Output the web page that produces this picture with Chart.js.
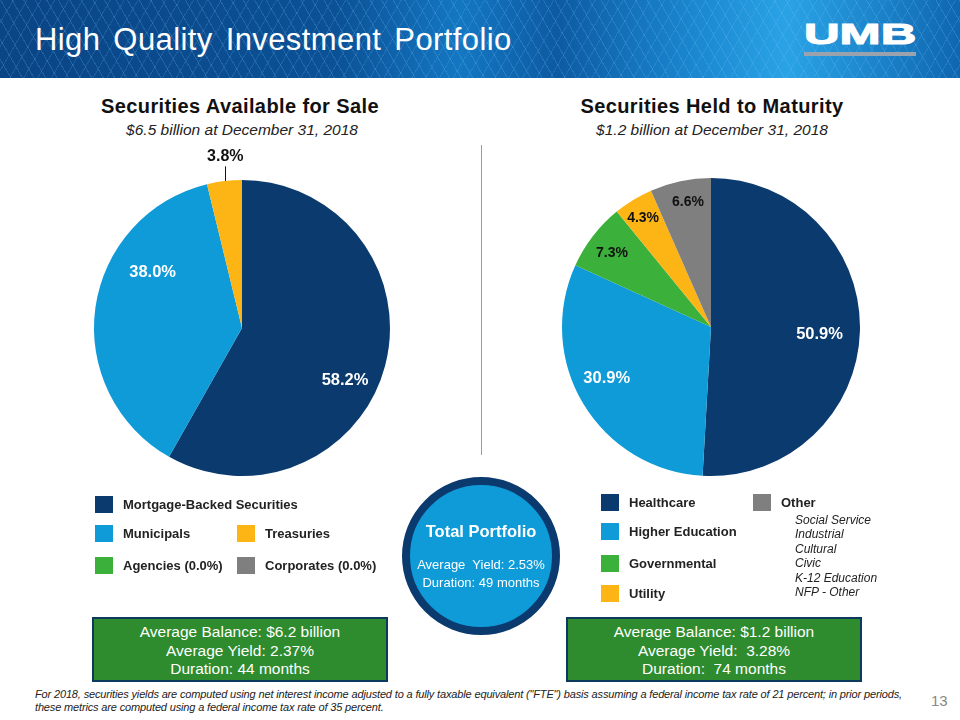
<!DOCTYPE html>
<html><head><meta charset="utf-8">
<script src="https://cdn.jsdelivr.net/npm/chart.js@4/dist/chart.umd.min.js"></script>
<style>
html,body{margin:0;padding:0;background:#fff;}
body{width:960px;height:720px;position:relative;overflow:hidden;font-family:"Liberation Sans",Arial,sans-serif;}
#hdr{position:absolute;left:0;top:0;width:960px;height:78px;
 background:
  repeating-linear-gradient(60deg, rgba(255,255,255,0) 0 9px, rgba(120,200,250,0.20) 9px 10px),
  repeating-linear-gradient(120deg, rgba(255,255,255,0) 0 11px, rgba(120,200,250,0.16) 11px 12px),
  linear-gradient(90deg,#0a4585 0%,#0b5196 35%,#1477c2 48%,#0d5aa2 58%,#1a86cf 72%,#2aa3e6 82%,#0f66b0 100%);}
#title{position:absolute;left:35px;top:24px;color:#fff;font-size:31px;line-height:31px;letter-spacing:0.4px;word-spacing:4px;white-space:nowrap;}
#logo{position:absolute;left:804px;top:20px;color:#fff;font-weight:bold;font-size:29px;line-height:29px;transform:scaleX(1.7);transform-origin:left top;white-space:nowrap;-webkit-text-stroke:1px #fff;}
#logobar{position:absolute;left:804px;top:52px;width:112px;height:4px;background:#9aa3ad;}
.ct{position:absolute;font-weight:bold;font-size:20px;line-height:20px;letter-spacing:0.4px;color:#111;text-align:center;width:400px;white-space:nowrap;}
.cs{position:absolute;font-style:italic;font-size:15.5px;line-height:16px;color:#222;text-align:center;width:400px;white-space:nowrap;}
canvas{position:absolute;}
#div{position:absolute;left:481px;top:145px;width:1px;height:310px;background:#9a9a9a;}
.lg{position:absolute;font-weight:bold;font-size:13px;color:#222;display:flex;align-items:center;white-space:nowrap;}
.lg span.sw{display:inline-block;width:18px;height:17px;margin-right:10px;}
.sub{position:absolute;font-style:italic;font-size:12px;color:#222;line-height:14.4px;}
#circ{position:absolute;left:402px;top:477px;width:142px;height:142px;border-radius:50%;border:8px solid #0b3a6e;background:#0f9ad8;color:#fff;text-align:center;}
.box{position:absolute;width:296px;height:65px;background:#2e8b2e;border:2px solid #0b3a5e;color:#fff;text-align:center;font-size:15.5px;line-height:18.5px;padding-top:4px;box-sizing:border-box;}
#foot{position:absolute;left:35px;top:688px;font-style:italic;font-size:11px;color:#222;line-height:13px;letter-spacing:-0.15px;white-space:nowrap;}
#pg{position:absolute;left:931px;top:692px;font-size:15px;color:#888;}
</style></head>
<body>
<div id="hdr"></div>
<div id="title">High Quality Investment Portfolio</div>
<div id="logo">UMB</div>
<div id="logobar"></div>

<div class="ct" style="left:40px;top:96px;">Securities Available for Sale</div>
<div class="cs" style="left:42px;top:122px;">$6.5 billion at December 31, 2018</div>
<div class="ct" style="left:512px;top:96px;">Securities Held to Maturity</div>
<div class="cs" style="left:512px;top:122px;">$1.2 billion at December 31, 2018</div>
<div id="div"></div>

<canvas id="c1" width="400" height="400" style="left:42px;top:128px;width:400px;height:400px;"></canvas>
<canvas id="c2" width="400" height="400" style="left:511px;top:127px;width:400px;height:400px;"></canvas>

<div id="leg"></div>

<div id="circ">
 <div style="font-weight:bold;font-size:16.5px;line-height:19px;margin-top:37px;">Total Portfolio</div>
 <div style="font-size:13px;margin-top:15px;line-height:18px;">Average&nbsp; Yield: 2.53%<br>Duration: 49 months</div>
</div>

<div class="box" style="left:92px;top:617px;">Average Balance: $6.2 billion<br>Average Yield: 2.37%<br>Duration: 44 months</div>
<div class="box" style="left:566px;top:617px;">Average Balance: $1.2 billion<br>Average Yield:&nbsp; 3.28%<br>Duration:&nbsp; 74 months</div>

<div id="foot">For 2018, securities yields are computed using net interest income adjusted to a fully taxable equivalent ("FTE") basis assuming a federal income tax rate of 21 percent; in prior periods,<br>these metrics are computed using a federal income tax rate of 35 percent.</div>
<div id="pg">13</div>

<script>
// ---- data ----
const afsCategories = ["Mortgage-Backed Securities","Municipals","Treasuries","Agencies (0.0%)","Corporates (0.0%)"];
const afsValues = [58.2, 38.0, 3.8, 0.0, 0.0];
const htmCategories = ["Healthcare","Higher Education","Governmental","Utility","Other"];
const htmValues = [50.9, 30.9, 7.3, 4.3, 6.6];
const otherSubcategories = ["Social Service","Industrial","Cultural","Civic","K-12 Education","NFP - Other"];

// ---- styles ----
const NAVY="#0b3a6e", LBLUE="#0f9ad8", YEL="#fdb515", GRN="#3bb03b", GRY="#7f7f7f";
const afsColors=[NAVY,LBLUE,YEL,GRN,GRY];
const htmColors=[NAVY,LBLUE,GRN,YEL,GRY];
// label placement styling: [angle shift deg, radius fraction, color, font px]
const afsLabelStyle=[[12,0.78,"#fff",16.5],[23.8,0.71,"#fff",16.5],[1.3,1.165,"#111",16],[0,0,"",0],[0,0,"",0]];
const htmLabelStyle=[[2.1,0.73,"#fff",16.5],[5,0.78,"#fff",16.5],[-0.8,0.83,"#111",14],[-0.5,0.86,"#111",14],[1.4,0.85,"#111",14]];

const labelPlugin={
 id:"sliceLabels",
 afterDatasetsDraw(chart,args,opts){
  const ctx=chart.ctx; const meta=chart.getDatasetMeta(0);
  const vals=chart.data.datasets[0].data; const st=opts.style;
  meta.data.forEach((arc,i)=>{
   if(!vals[i]) return;
   const p=arc.getProps(["x","y","startAngle","endAngle","outerRadius"],true);
   const a=(p.startAngle+p.endAngle)/2 + st[i][0]*Math.PI/180;
   const r=p.outerRadius*st[i][1];
   const lx=p.x+Math.cos(a)*r, ly=p.y+Math.sin(a)*r;
   ctx.save();
   if(st[i][1]>1){ // leader line for outside labels
     ctx.strokeStyle="#111"; ctx.lineWidth=1;
     ctx.beginPath();
     ctx.moveTo(Math.round(lx)+0.5, ly+10);
     ctx.lineTo(Math.round(lx)+0.5, p.y-Math.sqrt(Math.max(0,p.outerRadius*p.outerRadius-(lx-p.x)*(lx-p.x))));
     ctx.stroke();
   }
   ctx.font="bold "+st[i][3]+"px 'Liberation Sans', Arial, sans-serif";
   ctx.fillStyle=st[i][2]; ctx.textAlign="center"; ctx.textBaseline="middle";
   ctx.fillText(vals[i].toFixed(1)+"%", lx, ly);
   ctx.restore();
  });
 }
};

function makePie(id,vals,labels,colors,style,pad){
 new Chart(document.getElementById(id),{
  type:"pie",
  data:{labels:labels,datasets:[{data:vals,backgroundColor:colors,borderWidth:0}]},
  options:{responsive:false,animation:false,layout:{padding:pad},
   plugins:{legend:{display:false},tooltip:{enabled:false},sliceLabels:{style:style}}},
  plugins:[labelPlugin]
 });
}
makePie("c1",afsValues,afsCategories,afsColors,afsLabelStyle,52);
makePie("c2",htmValues,htmCategories,htmColors,htmLabelStyle,51);

// ---- legends ----
const leg=document.getElementById("leg");
function addLeg(x,y,text,color){
 const d=document.createElement("div"); d.className="lg";
 d.style.left=x+"px"; d.style.top=y+"px";
 d.innerHTML='<span class="sw" style="background:'+color+'"></span>'+text;
 leg.appendChild(d);
}
const afsLegPos=[[95,496],[95,525],[237,525],[95,557],[237,557]];
afsCategories.forEach((c,i)=>addLeg(afsLegPos[i][0],afsLegPos[i][1],c,afsColors[i]));
const htmLegPos=[[601,494],[601,523],[601,555],[601,585],[753,494]];
htmCategories.forEach((c,i)=>addLeg(htmLegPos[i][0],htmLegPos[i][1],c,htmColors[i]));
const sub=document.createElement("div"); sub.className="sub";
sub.style.left="795px"; sub.style.top="513px";
sub.innerHTML=otherSubcategories.join("<br>");
leg.appendChild(sub);
</script>
</body></html>
